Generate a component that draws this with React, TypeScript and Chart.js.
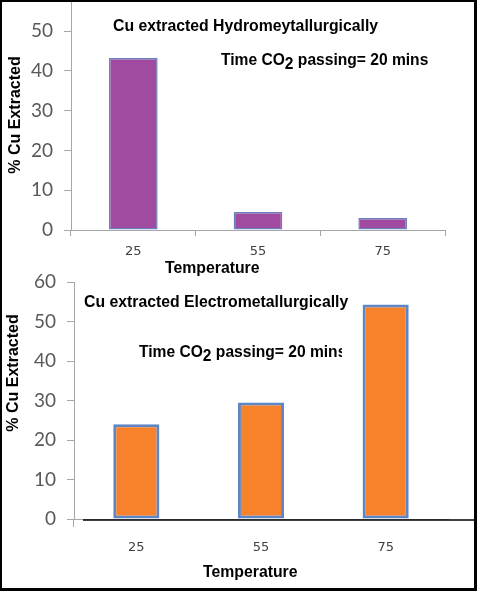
import { useEffect, useRef } from 'react';
import { Chart, registerables } from 'chart.js';

Chart.register(...registerables);

// categories and values
const temperatures = ['25', '55', '75'];
const hydroValues = [43.2, 4.5, 3.0];
const electroValues = [24, 29.5, 54.3];
const hydroTicks = [0, 10, 20, 30, 40, 50];
const electroTicks = [0, 10, 20, 30, 40, 50, 60];

const axisGray = '#a6a6a6';

type PanelProps = {
  values: number[];
  tickValues: number[];
  yMax: number;
  fill: string;
  stroke: string;
  strokeWidth: number;
  barPercentage: number;
  top: number;
  height: number;
  padTop: number;
  padRight: number;
  yWidth: number;
  xHeight: number;
  xTickLength: number;
  xTickPadding: number;
  baseLine?: boolean;
};

// black base line that runs past the plot to the frame (bottom panel)
const baseLinePlugin = {
  id: 'baseLine',
  afterDatasetsDraw(chart: Chart) {
    const opts = (chart.options.plugins as any).baseLine;
    if (!opts || !opts.show) return;
    const y = chart.scales.y.getPixelForValue(0) + 1;
    const ctx = chart.ctx;
    ctx.save();
    ctx.strokeStyle = '#000';
    ctx.lineWidth = 1.5;
    ctx.beginPath();
    ctx.moveTo(chart.chartArea.left + 9, y);
    ctx.lineTo(chart.width, y);
    ctx.stroke();
    ctx.restore();
  },
};

function BarPanel(p: PanelProps) {
  const canvasRef = useRef<HTMLCanvasElement>(null);
  const chartRef = useRef<Chart | null>(null);

  useEffect(() => {
    if (!canvasRef.current) return;
    if (chartRef.current) chartRef.current.destroy();

    chartRef.current = new Chart(canvasRef.current, {
      type: 'bar',
      data: {
        labels: temperatures,
        datasets: [
          {
            data: p.values,
            backgroundColor: p.fill,
            borderColor: p.stroke,
            borderWidth: p.strokeWidth,
            borderSkipped: false,
            barPercentage: p.barPercentage,
            categoryPercentage: 1,
          },
        ],
      },
      plugins: [baseLinePlugin],
      options: {
        responsive: false,
        animation: false,
        layout: { padding: { left: 0, right: p.padRight, top: p.padTop, bottom: 0 } },
        plugins: {
          legend: { display: false },
          tooltip: { enabled: false },
          baseLine: { show: !!p.baseLine },
        } as any,
        scales: {
          x: {
            grid: {
              drawOnChartArea: false,
              offset: true,
              tickLength: p.xTickLength,
              // bottom panel only keeps the tick at the origin
              color: (c: any) => (p.baseLine && c.index !== 0 ? 'rgba(0,0,0,0)' : axisGray),
            },
            border: { color: axisGray },
            ticks: {
              font: { family: 'DejaVu Sans', size: 13 },
              color: '#404040',
              padding: p.xTickPadding,
            },
            afterFit: (s: any) => {
              s.height = p.xHeight;
              s.paddingLeft = 0;
              s.paddingRight = 0;
            },
          },
          y: {
            min: 0,
            max: p.yMax,
            afterBuildTicks: (s: any) => {
              s.ticks = p.tickValues.map((value) => ({ value }));
            },
            grid: { drawOnChartArea: false, tickLength: 7, color: axisGray },
            border: { color: axisGray },
            ticks: {
              font: { family: 'Lato', size: 19 },
              color: '#595959',
              padding: 11,
            },
            afterFit: (s: any) => {
              s.width = p.yWidth;
              s.paddingTop = 0;
              s.paddingBottom = 0;
            },
          },
        },
      },
    });

    return () => {
      if (chartRef.current) {
        chartRef.current.destroy();
        chartRef.current = null;
      }
    };
  }, []);

  return (
    <canvas
      ref={canvasRef}
      width={477}
      height={p.height}
      style={{ position: 'absolute', left: 0, top: p.top, width: 477, height: p.height }}
    />
  );
}

const bold = { fontFamily: '"Liberation Sans", Arial, sans-serif', fontWeight: 700, color: '#000' };

function Label({ x, y, size, children, clip }: { x: number; y: number; size: number; children: any; clip?: number }) {
  return (
    <div
      style={{
        ...bold,
        position: 'absolute',
        left: x,
        top: y - size * 0.6,
        fontSize: size,
        lineHeight: 1.2,
        whiteSpace: 'nowrap',
        overflow: clip ? 'hidden' : 'visible',
        width: clip,
      }}
    >
      {children}
    </div>
  );
}

function YTitle({ cx, cy }: { cx: number; cy: number }) {
  return (
    <div
      style={{
        ...bold,
        position: 'absolute',
        left: cx - 80,
        top: cy - 10,
        width: 160,
        height: 20,
        lineHeight: '20px',
        fontSize: 16,
        textAlign: 'center',
        transform: 'rotate(-90deg)',
        whiteSpace: 'nowrap',
      }}
    >
      % Cu Extracted
    </div>
  );
}

const co2 = (
  <>
    Time CO<span style={{ fontSize: '1em', position: 'relative', top: 4 }}>2</span> passing= 20 mins
  </>
);

export default function App() {
  return (
    <div
      style={{
        position: 'absolute',
        left: 0,
        top: 0,
        width: 477,
        height: 591,
        background: '#fff',
        overflow: 'hidden',
      }}
    >
      <BarPanel
        values={hydroValues}
        tickValues={hydroTicks}
        yMax={57.8}
        fill="#a04aa0"
        stroke="#6a7fc0"
        strokeWidth={1.5}
        barPercentage={0.39}
        top={0}
        height={262}
        padTop={0}
        padRight={32}
        yWidth={71}
        xHeight={32}
        xTickLength={6}
        xTickPadding={8}
      />
      <BarPanel
        values={electroValues}
        tickValues={electroTicks}
        yMax={60}
        fill="#f8812b"
        stroke="#5f86c4"
        strokeWidth={3}
        barPercentage={0.37}
        top={262}
        height={329}
        padTop={20}
        padRight={29}
        yWidth={74}
        xHeight={72}
        xTickLength={8}
        xTickPadding={13}
        baseLine
      />

      <Label x={113} y={26} size={15.8}>Cu extracted Hydromeytallurgically</Label>
      <Label x={221} y={60} size={15.6}>{co2}</Label>
      <Label x={165} y={268} size={15.8}>Temperature</Label>
      <YTitle cx={15} cy={115} />

      <Label x={84} y={302} size={15.8}>Cu extracted Electrometallurgically</Label>
      <Label x={139} y={352} size={15.6} clip={203}>{co2}</Label>
      <Label x={203} y={572} size={15.8}>Temperature</Label>
      <YTitle cx={13} cy={373} />

      <div
        style={{
          position: 'absolute',
          inset: 0,
          boxSizing: 'border-box',
          borderTop: '2px solid #000',
          borderLeft: '2px solid #000',
          borderRight: '3px solid #000',
          borderBottom: '3px solid #000',
          pointerEvents: 'none',
        }}
      />
    </div>
  );
}
